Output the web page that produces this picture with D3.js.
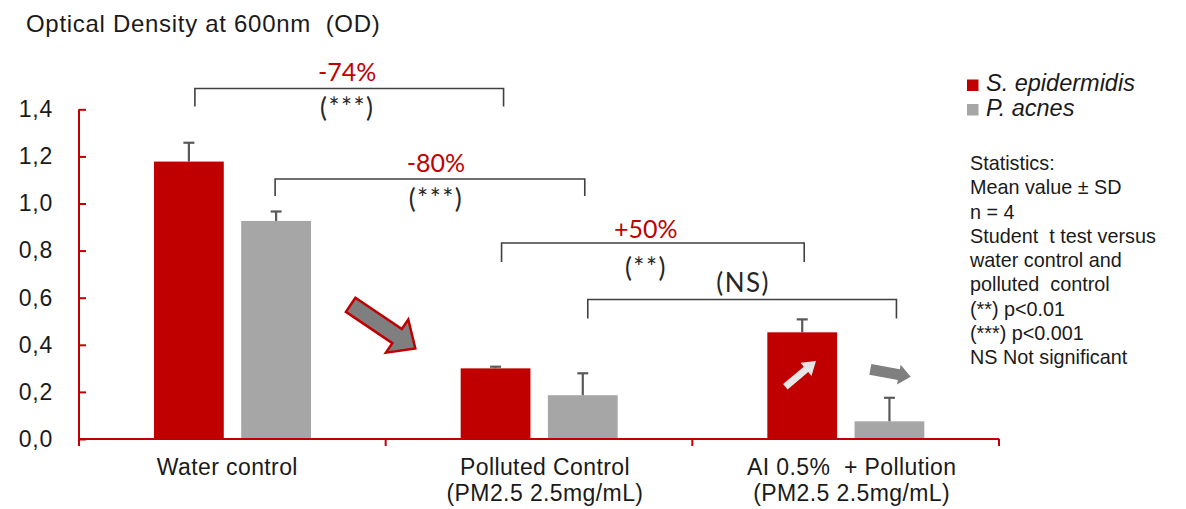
<!DOCTYPE html>
<html>
<head>
<meta charset="utf-8">
<script src="https://cdn.jsdelivr.net/npm/d3@7/dist/d3.min.js"></script>
<style>
  html, body { margin: 0; padding: 0; background: #ffffff; }
  svg { display: block; }
  text { white-space: pre; }
</style>
</head>
<body>
<svg id="chart" width="1186" height="509"></svg>
<script>
// ---------------- DATA ----------------
const title = "Optical Density at 600nm  (OD)";
const categories = [
  ["Water control"],
  ["Polluted Control", "(PM2.5 2.5mg/mL)"],
  ["AI 0.5%  + Pollution", "(PM2.5 2.5mg/mL)"]
];
const seriesNames = ["S. epidermidis", "P. acnes"];
const sEpidermidisMean = [1.178, 0.300, 0.453];
const sEpidermidisSD   = [0.080, 0.007, 0.055];
const pAcnesMean       = [0.926, 0.186, 0.075];
const pAcnesSD         = [0.040, 0.093, 0.100];
const yTickValues = [0, 0.2, 0.4, 0.6, 0.8, 1.0, 1.2, 1.4];
const yTickLabels = ["0,0", "0,2", "0,4", "0,6", "0,8", "1,0", "1,2", "1,4"];
// comparisons: [category, series] -> [category, series]
const compFrom   = [[0, 0], [0, 1], [1, 0], [1, 1]];
const compTo     = [[1, 0], [1, 1], [2, 0], [2, 1]];
const compChange = ["-74%", "-80%", "+50%", ""];
const compSig    = ["(***)", "(***)", "(**)", "(NS)"];
const statsLines = [
  "Statistics:",
  "Mean value \u00B1 SD",
  "n = 4",
  "Student  t test versus",
  "water control and",
  "polluted  control",
  "(**) p<0.01",
  "(***) p<0.001",
  "NS Not significant"
];

// ---------------- STYLE / LAYOUT ----------------
const RED = "#c00000", GREY = "#a6a6a6", DARK = "#595959", LINE = "#404040";
const seriesColors = [RED, GREY];
const SANS = "'Liberation Sans', Arial, sans-serif";
const HUM = "Lato, 'Open Sans', sans-serif";

const svg = d3.select("#chart");

const x = d3.scaleBand().domain(d3.range(categories.length)).range([79, 999]).paddingInner(0).paddingOuter(0);
const xs = d3.scaleBand().domain(d3.range(seriesNames.length)).range([75, 232]).paddingInner(0.2);
const y = d3.scaleLinear().domain([0, 1.4]).range([439, 109.3]);

const means = [sEpidermidisMean, pAcnesMean];
const sds = [sEpidermidisSD, pAcnesSD];

const barData = [];
seriesNames.forEach((s, si) => {
  categories.forEach((c, ci) => {
    barData.push({ ci, si, v: means[si][ci], sd: sds[si][ci] });
  });
});
const barCenter = (ci, si) => x(ci) + xs(si) + xs.bandwidth() / 2;

// Title
svg.append("text")
  .attr("x", 26).attr("y", 32)
  .attr("font-family", SANS).attr("font-size", 24).attr("letter-spacing", 0.7)
  .attr("fill", "#1a1a1a")
  .text(title);

// Bars
svg.append("g").selectAll("rect").data(barData).join("rect")
  .attr("x", d => x(d.ci) + xs(d.si))
  .attr("width", xs.bandwidth())
  .attr("y", d => y(d.v))
  .attr("height", d => y(0) - y(d.v))
  .attr("fill", d => seriesColors[d.si]);

// Error bars (upper only)
const eb = svg.append("g").attr("stroke", DARK).attr("stroke-width", 2.2).attr("fill", "none");
barData.forEach(d => {
  const cx = barCenter(d.ci, d.si);
  eb.append("line").attr("x1", cx).attr("x2", cx).attr("y1", y(d.v)).attr("y2", y(d.v + d.sd));
  eb.append("line").attr("x1", cx - 5.5).attr("x2", cx + 5.5).attr("y1", y(d.v + d.sd)).attr("y2", y(d.v + d.sd));
});

// Y axis
const yAxis = d3.axisLeft(y).tickValues(yTickValues).tickFormat((d, i) => yTickLabels[i])
  .tickSizeInner(-7).tickSizeOuter(0).tickPadding(26);
const gy = svg.append("g").attr("transform", "translate(79,0)").call(yAxis);
gy.select(".domain").remove();
gy.selectAll(".tick line").attr("stroke", RED).attr("stroke-width", 2);
gy.selectAll(".tick text").attr("font-family", SANS).attr("font-size", 23)
  .attr("letter-spacing", 0.8).attr("fill", "#1a1a1a");
svg.append("line").attr("x1", 79).attr("x2", 79).attr("y1", y(1.4)).attr("y2", y(0) + 7)
  .attr("stroke", RED).attr("stroke-width", 2);

// X axis
svg.append("line").attr("x1", 79).attr("x2", 999).attr("y1", y(0)).attr("y2", y(0))
  .attr("stroke", RED).attr("stroke-width", 2);
const boundaries = d3.range(1, categories.length + 1).map(i => i < categories.length ? x(i) : x.range()[1]);
svg.append("g").selectAll("line").data(boundaries).join("line")
  .attr("x1", d => d).attr("x2", d => d).attr("y1", y(0)).attr("y2", y(0) + 7)
  .attr("stroke", RED).attr("stroke-width", 2);

// Category labels
categories.forEach((lines, ci) => {
  const t = svg.append("text")
    .attr("y", 475)
    .attr("text-anchor", "middle")
    .attr("font-family", SANS).attr("font-size", 23).attr("letter-spacing", 0.4)
    .attr("fill", "#1a1a1a");
  lines.forEach((l, li) => {
    t.append("tspan").attr("x", x(ci) + x.bandwidth() / 2 - (ci === 0 ? 5 : -6)).attr("dy", li === 0 ? 0 : 26).text(l);
  });
});

// Brackets
const bracketLayout = [
  { yLine: 88.5, leg: 18, dx1: 6, dx2: 8, chgY: 81, sigY: 117, textDx: -2 },
  { yLine: 179, leg: 17, dx1: -1, dx2: 2, chgY: 172, sigY: 208, textDx: 6 },
  { yLine: 243, leg: 19, dx1: 6, dx2: 2, chgY: 238, sigY: 277, textDx: -7 },
  { yLine: 299.5, leg: 19, dx1: 5, dx2: 7, chgY: 0, sigY: 292, textDx: 1 }
];
const gb = svg.append("g");
compFrom.forEach((f, i) => {
  const L = bracketLayout[i];
  const x1 = barCenter(f[0], f[1]) + L.dx1;
  const x2 = barCenter(compTo[i][0], compTo[i][1]) + L.dx2;
  gb.append("path")
    .attr("d", `M${x1},${L.yLine + L.leg}V${L.yLine}H${x2}V${L.yLine + L.leg}`)
    .attr("fill", "none").attr("stroke", LINE).attr("stroke-width", 1.6);
  const mid = (x1 + x2) / 2 + L.textDx;
  if (compChange[i]) {
    gb.append("text").attr("x", mid).attr("y", L.chgY).attr("text-anchor", "middle")
      .attr("font-family", HUM).attr("font-size", 25).attr("fill", RED).text(compChange[i]);
  }
  gb.append("text").attr("x", mid).attr("y", L.sigY).attr("text-anchor", "middle")
    .attr("font-family", HUM).attr("font-size", 26).attr("fill", "#262626")
    .attr("letter-spacing", 1.5).text(compSig[i]);
});

// Arrows (anchored via scales)
function arrow(tail, angleDeg, len, shaftHW, headHW, headLen, fill, stroke, sw) {
  const sl = len - headLen;
  const pts = [[0, -shaftHW], [sl, -shaftHW], [sl, -headHW], [len, 0], [sl, headHW], [sl, shaftHW], [0, shaftHW]];
  svg.append("polygon")
    .attr("points", pts.map(p => p.join(",")).join(" "))
    .attr("transform", `translate(${tail[0]},${tail[1]}) rotate(${angleDeg})`)
    .attr("fill", fill)
    .attr("stroke", stroke || "none")
    .attr("stroke-width", sw || 0)
    .attr("stroke-linejoin", "miter");
}
arrow([x(1) - 35, y(0.57)], 34, 78, 8.5, 20, 22, "#7f7f7f", RED, 2.5);
arrow([x(2) + 93, y(0.222)], -40, 40, 3.5, 8.5, 13, "#e6e6e6");
arrow([x(2) + 178, y(0.296)], 10.5, 41, 5.5, 10, 12, "#7f7f7f");

// Legend
const lg = svg.append("g");
seriesNames.forEach((s, i) => {
  const by = 91 + i * 24.5;
  lg.append("rect").attr("x", 967).attr("y", by - 11.5).attr("width", 11.5).attr("height", 11.5)
    .attr("fill", seriesColors[i]);
  lg.append("text").attr("x", 986).attr("y", by)
    .attr("font-family", SANS).attr("font-size", 23.5).attr("font-style", "italic")
    .attr("fill", "#1a1a1a").text(s);
});

// Statistics text
const st = svg.append("text").attr("font-family", SANS).attr("font-size", 19.8).attr("fill", "#1a1a1a");
statsLines.forEach((l, i) => {
  st.append("tspan").attr("x", 970).attr("y", 170 + i * 24.25).text(l);
});
</script>
</body>
</html>
